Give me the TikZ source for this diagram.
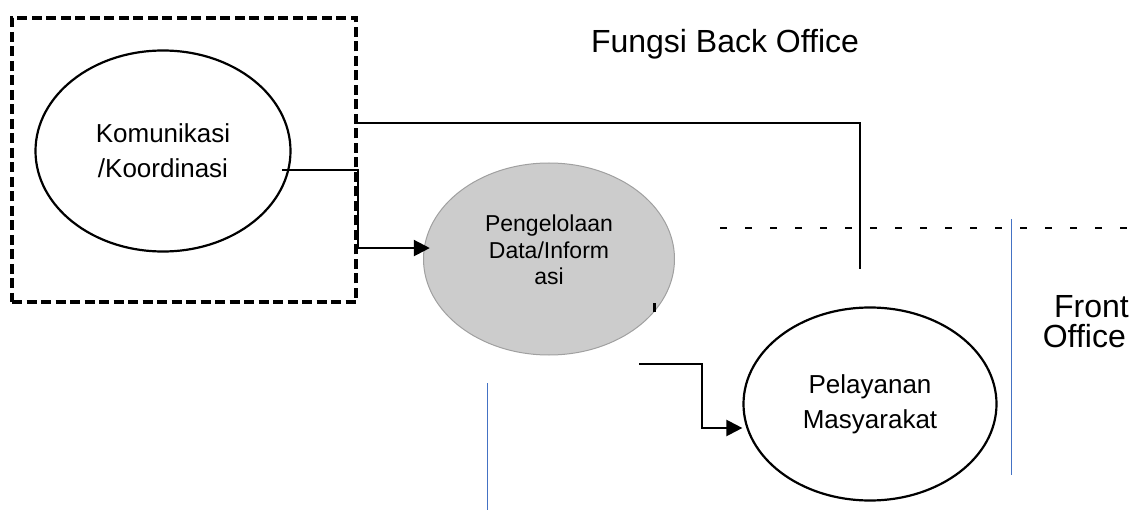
\documentclass[tikz,border=0pt]{standalone}
\usepackage{fontspec}
\setmainfont{Liberation Sans}
\usetikzlibrary{arrows.meta,shapes.geometric,calc}
\definecolor{rulerblue}{HTML}{4472C4}
\definecolor{procfill}{HTML}{CCCCCC}
\definecolor{procedge}{HTML}{A0A0A0}

\begin{document}
\begin{tikzpicture}[x=1pt,y=-1pt,
  proc/.style={ellipse, draw=black, line width=2.2pt, inner sep=0pt, align=center,
    font=\fontsize{26}{35}\selectfont},
  flow/.style={line width=2.2pt, -{Triangle[length=16pt,width=16pt]}},
  plain/.style={line width=1.8pt},
  divider/.style={draw=rulerblue, line width=1pt},
  caption/.style={inner sep=0pt, font=\fontsize{32}{32}\selectfont}
]
\useasboundingbox (0,0) rectangle (1138,521);

% back-office boundary
\node[draw, line width=3.8pt, dash pattern=on 10pt off 4.5pt, rectangle,
  minimum width=344pt, minimum height=284pt, inner sep=0pt] (backbox) at (184,160) {};

% processes
\node[proc, minimum width=255pt, minimum height=201pt] (komu) at (163,151)
  {Komunikasi\\/Koordinasi};
\node[ellipse, draw=procedge, fill=procfill, line width=1pt, inner sep=0pt,
  minimum width=251pt, minimum height=192pt] (data) at (549,259) {};
\node[align=center, inner sep=0pt, font=\fontsize{23}{26.5}\selectfont]
  (datatext) at (549,250) {Pengelolaan\\Data/Inform\\asi};
\node[proc, minimum width=253pt, minimum height=193pt] (pel) at (870,404)
  {Pelayanan\\Masyarakat};

% labels
\node[caption, anchor=base] (title) at (725,53) {Fungsi Back Office};
\node[caption, anchor=base east] (front) at (1129,318) {Front};
\node[caption, anchor=base east] (office) at (1126,348) {Office};

% boundary lines
\draw[line width=2pt, dash pattern=on 7pt off 18pt] (720,228) coordinate (dl) -- (1138,228) coordinate (dr);
\draw[divider] (487,383) coordinate (v1a) -- (487,510) coordinate (v1b);
\draw[divider] (1011,219) coordinate (v2a) -- (1011,475) coordinate (v2b);

% connectors
\coordinate (k1) at (282,170);
\draw[flow, shorten >=-6pt] (k1) -- (backbox.east |- k1) |- (data.175);
\coordinate (t0) at (backbox.east |- 0,123);
\coordinate (t1) at (860,269);
\draw[plain] (t0) -| (t1);
\coordinate (d2) at (639,364);
\draw[flow] (d2) -- (702,364) |- ($(pel.west)+(0,24)$);

% stray mark beside the data process
\fill (653,303) rectangle (656,312);
\end{tikzpicture}
\end{document}
